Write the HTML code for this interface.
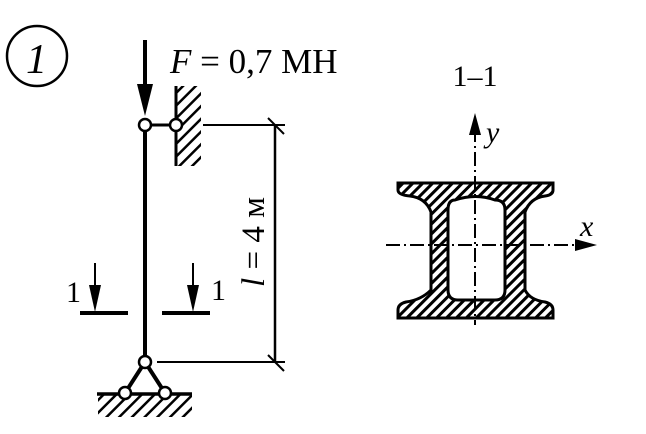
<!DOCTYPE html>
<html><head><meta charset="utf-8"><style>body{margin:0;background:#fff}svg{display:block}</style></head><body>
<svg width="646" height="434" viewBox="0 0 646 434" xmlns="http://www.w3.org/2000/svg">
<defs>
<pattern id="h" width="7" height="7" patternUnits="userSpaceOnUse" patternTransform="rotate(45)"><rect width="7" height="7" fill="#fff"/><rect width="3" height="7" fill="#000"/></pattern>
<pattern id="h2" width="9" height="9" patternUnits="userSpaceOnUse" patternTransform="rotate(45)"><rect width="9" height="9" fill="#fff"/><rect width="2.5" height="9" fill="#000"/></pattern>
</defs>
<g font-family="Liberation Serif, serif" fill="#000">
<circle cx="37" cy="56" r="30" fill="none" stroke="#000" stroke-width="2.5"/>
<text x="26" y="73" font-size="42" font-style="italic">1</text>
<text x="170" y="73" font-size="35"><tspan font-style="italic">F</tspan> = 0,7 MH</text>
<line x1="145" y1="40" x2="145" y2="95" stroke="#000" stroke-width="4"/>
<polygon points="137,84 153,84 145,116"/>
<line x1="145" y1="125" x2="145" y2="362" stroke="#000" stroke-width="4"/>
<line x1="145" y1="125" x2="176" y2="125" stroke="#000" stroke-width="3"/>
<rect x="176" y="86" width="25" height="80" fill="url(#h2)"/>
<line x1="176" y1="86" x2="176" y2="166" stroke="#000" stroke-width="3"/>
<circle cx="145" cy="125" r="6" fill="#fff" stroke="#000" stroke-width="2.5"/>
<circle cx="176" cy="125" r="6" fill="#fff" stroke="#000" stroke-width="2.5"/>
<line x1="203" y1="125" x2="285" y2="125" stroke="#000" stroke-width="2"/>
<line x1="157" y1="362" x2="285" y2="362" stroke="#000" stroke-width="2"/>
<line x1="275" y1="125" x2="275" y2="362" stroke="#000" stroke-width="2.5"/>
<line x1="268" y1="118" x2="284" y2="134" stroke="#000" stroke-width="2"/>
<line x1="268" y1="355" x2="284" y2="371" stroke="#000" stroke-width="2"/>
<text transform="translate(264,242) rotate(-90)" font-size="33" text-anchor="middle"><tspan font-style="italic">l</tspan> = 4 м</text>
<line x1="95" y1="263" x2="95" y2="290" stroke="#000" stroke-width="2"/>
<polygon points="89,285 101,285 95,312"/>
<line x1="80" y1="313" x2="128" y2="313" stroke="#000" stroke-width="4"/>
<text x="66" y="302" font-size="30">1</text>
<line x1="193" y1="263" x2="193" y2="290" stroke="#000" stroke-width="2"/>
<polygon points="187,285 199,285 193,312"/>
<line x1="162" y1="313" x2="210" y2="313" stroke="#000" stroke-width="4"/>
<text x="211" y="300" font-size="30">1</text>
<line x1="145" y1="362" x2="125" y2="393" stroke="#000" stroke-width="4"/>
<line x1="145" y1="362" x2="165" y2="393" stroke="#000" stroke-width="4"/>
<rect x="98" y="395" width="94" height="22" fill="url(#h2)"/>
<line x1="97" y1="394" x2="192" y2="394" stroke="#000" stroke-width="3.5"/>
<circle cx="145" cy="362" r="6" fill="#fff" stroke="#000" stroke-width="2.5"/>
<circle cx="125" cy="393" r="6" fill="#fff" stroke="#000" stroke-width="2.5"/>
<circle cx="165" cy="393" r="6" fill="#fff" stroke="#000" stroke-width="2.5"/>
<text x="475" y="86" font-size="30" text-anchor="middle">1–1</text>
<path fill="url(#h)" fill-rule="evenodd" stroke="#000" stroke-width="3" d="M398,183 H553 V190 Q553,195 545,196 Q530,198 525,212 V290 Q530,300 545,302 Q553,304 553,310 V318 H398 V310 Q398,304 406,302 Q421,300 431,290 V212 Q426,198 410,196 Q398,195 398,190 Z M455,200 Q448,200 448,210 V290 Q448,300 458,300 H495 Q505,300 505,290 V210 Q505,200 495,200 Q476,193 455,200 Z"/>
<line x1="475" y1="128" x2="475" y2="325" stroke="#000" stroke-width="2" stroke-dasharray="14,4,2,4"/>
<polygon points="469,135 481,135 475,113"/>
<text x="486" y="142" font-size="30" font-style="italic">y</text>
<line x1="386" y1="245" x2="580" y2="245" stroke="#000" stroke-width="2" stroke-dasharray="14,4,2,4"/>
<polygon points="575,239 575,251 597,245"/>
<text x="580" y="236" font-size="30" font-style="italic">x</text>
</g>
</svg>
</body></html>
